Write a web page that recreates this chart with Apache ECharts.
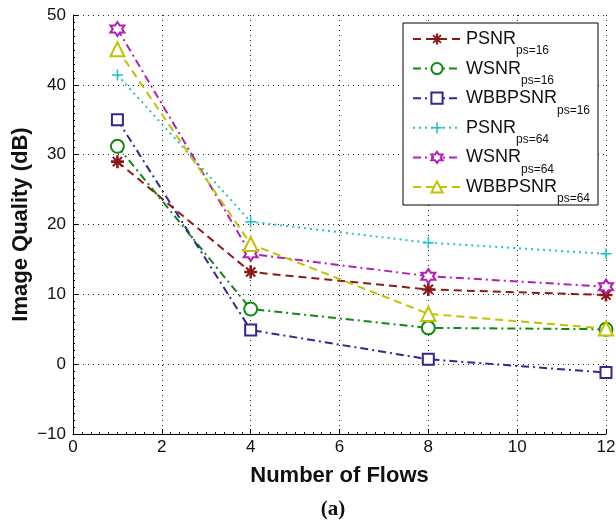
<!DOCTYPE html>
<html>
<head>
<meta charset="utf-8">
<script src="https://cdn.jsdelivr.net/npm/echarts@6/dist/echarts.min.js"></script>
<style>
  html, body { margin: 0; padding: 0; background: #fff; }
  #chart { width: 616px; height: 524px; }
</style>
</head>
<body>
<div id="chart"></div>
<script>
// values
const flows = [1, 4, 8, 12];
const psnr16 = [29.0, 13.2, 10.7, 9.9];
const wsnr16 = [31.2, 7.9, 5.2, 5.0];
const wbbpsnr16 = [35.0, 4.9, 0.7, -1.2];
const psnr64 = [41.4, 20.4, 17.4, 15.8];
const wsnr64 = [48.0, 15.8, 12.6, 11.1];
const wbbpsnr64 = [45.1, 17.2, 7.2, 5.1];

const FONT = '"Liberation Sans", Arial, Helvetica, sans-serif';

// marker shapes (matlab style)
const asterisk = 'path://M-1,-5L1,-5L1,5L-1,5Z M-5,-1L5,-1L5,1L-5,1Z ' +
  'M-4.11,-2.97L-2.97,-4.11L4.11,2.97L2.97,4.11Z M-2.97,4.11L-4.11,2.97L2.97,-4.11L4.11,-2.97Z';
const plus = 'path://M-0.7,-5L0.7,-5L0.7,-0.7L5,-0.7L5,0.7L0.7,0.7L0.7,5L-0.7,5L-0.7,0.7L-5,0.7L-5,-0.7L-0.7,-0.7Z';
const hexagram = 'path://M0,-5L1.443,-2.5L4.33,-2.5L2.887,0L4.33,2.5L1.443,2.5L0,5L-1.443,2.5L-4.33,2.5L-2.887,0L-4.33,-2.5L-1.443,-2.5Z';

const pairs = (ys) => flows.map((x, i) => [x, ys[i]]);

function makeSeries(name, ys, color, dash, symbol, size, outline) {
  return {
    name: name,
    type: 'line',
    data: pairs(ys),
    symbol: symbol,
    symbolSize: size,
    showAllSymbol: true,
    lineStyle: { color: color, width: 2, type: dash },
    itemStyle: outline
      ? { color: '#fff', borderColor: color, borderWidth: 2 }
      : { color: color },
    emphasis: { disabled: true },
    z: 3
  };
}

const chart = echarts.init(document.getElementById('chart'));

chart.setOption({
  animation: false,
  backgroundColor: '#fff',
  textStyle: { fontFamily: FONT },
  grid: { left: 73, right: 10, top: 15, bottom: 90, containLabel: false, outerBoundsMode: 'none' },
  title: {
    text: '(a)',
    left: 328,
    top: 494,
    textAlign: 'center',
    textStyle: { fontFamily: '"Liberation Serif", "Times New Roman", serif', fontSize: 21, fontWeight: 'bold', color: '#111' }
  },
  legend: {
    orient: 'vertical',
    left: 403,
    top: 23,
    itemWidth: 48,
    itemHeight: 14,
    itemGap: 2.6,
    padding: [7, 8, 0, 9],
    borderColor: '#000',
    borderWidth: 1,
    backgroundColor: '#fff',
    selectedMode: false,
    formatter: function (n) {
      const p = n.split(' ');
      return '{m|' + p[0] + '}{s|' + p[1] + '}';
    },
    textStyle: {
      rich: {
        m: { fontSize: 18, fontFamily: FONT, color: '#111' },
        s: { fontSize: 12, fontFamily: FONT, color: '#111', padding: [24, 0, 0, 0] }
      }
    }
  },
  xAxis: {
    type: 'value',
    min: 0, max: 12, interval: 2,
    name: 'Number of Flows',
    nameLocation: 'middle',
    nameGap: 31,
    nameMoveOverlap: false,
    nameTextStyle: { fontSize: 22, fontWeight: 'bold', color: '#111', fontFamily: FONT },
    axisLine: { show: true, onZero: false, lineStyle: { color: '#000', width: 1 } },
    axisTick: { show: true, inside: true, length: 5, lineStyle: { color: '#000' } },
    minorTick: { show: true, splitNumber: 10, length: 2, lineStyle: { color: '#000' } },
    axisLabel: { fontSize: 17, color: '#111', margin: 5, fontFamily: FONT },
    splitLine: { show: true, lineStyle: { color: '#222', type: [1, 4], width: 1 } }
  },
  yAxis: {
    type: 'value',
    min: -10, max: 50, interval: 10,
    name: 'Image Quality (dB)',
    nameLocation: 'middle',
    nameGap: 41,
    nameMoveOverlap: false,
    nameTextStyle: { fontSize: 22, fontWeight: 'bold', color: '#111', fontFamily: FONT },
    axisLine: { show: true, onZero: false, lineStyle: { color: '#000', width: 1 } },
    axisTick: { show: true, inside: true, length: 5, lineStyle: { color: '#000' } },
    minorTick: { show: true, splitNumber: 10, length: 2, lineStyle: { color: '#000' } },
    axisLabel: {
      fontSize: 17, color: '#111', margin: 7, fontFamily: FONT,
      formatter: (v) => String(v).replace('-', '\u2212')
    },
    splitLine: { show: true, lineStyle: { color: '#222', type: [1, 4], width: 1 } }
  },
  series: [
    makeSeries('PSNR ps=16', psnr16, '#8b1a1a', [8, 5], asterisk, 13, false),
    makeSeries('WSNR ps=16', wsnr16, '#118811', [8, 4, 2, 4], 'emptyCircle', 13, false),
    makeSeries('WBBPSNR ps=16', wbbpsnr16, '#33298c', [8, 4, 2, 4], 'emptyRect', 11, false),
    makeSeries('PSNR ps=64', psnr64, '#22c2c8', [2, 4], plus, 11, false),
    makeSeries('WSNR ps=64', wsnr64, '#b21fb2', [8, 4, 2, 4], hexagram, 14, true),
    makeSeries('WBBPSNR ps=64', wbbpsnr64, '#c2c200', [8, 5], 'emptyTriangle', 14, false)
  ]
});
</script>
</body>
</html>
